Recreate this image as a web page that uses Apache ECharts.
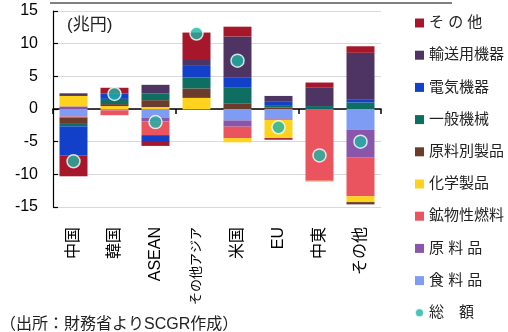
<!DOCTYPE html>
<html>
<head>
<meta charset="utf-8">
<script src="https://cdn.jsdelivr.net/npm/echarts@6/dist/echarts.min.js"></script>
<style>
  html, body { margin: 0; padding: 0; background: #fff; }
  #chart { width: 508px; height: 332px; }
</style>
</head>
<body>
<div id="chart"></div>
<script>
    // 国・地域 (兆円)
    let categories = ['中国', '韓国', 'ASEAN', 'その他アジア', '米国', 'EU', '中東', 'その他'];
    let yTicks = [-15, -10, -5, 0, 5, 10, 15];

    let food      = [-1.15, -0.2, -1.3, -0.1, -1.75, -1.45, 0, -3.2];
    let rawMat    = [0.4, 0, -0.6, 0, -0.95, -0.2, 0, -4.2];
    let fuel      = [-0.15, -0.75, -2.1, 0, -1.75, 0, -11.0, -5.95];
    let chemical  = [1.6, 0.45, 0.3, 1.7, -0.65, -2.8, -0.15, -0.9];
    let material  = [-0.85, 0.3, 1.05, 1.45, 0.8, 0.25, 0, -0.35];
    let machinery = [-0.5, 0.8, 1.0, 1.7, 2.45, 0.35, 0.45, 1.0];
    let electric  = [-4.5, 0.8, -0.9, 1.75, 1.55, 0.5, 0, 0.5];
    let transport = [0.4, 0, 1.35, 0.9, 6.3, 0.9, 2.8, 7.1];
    let others    = [-3.15, 0.9, -0.75, 4.2, 1.5, -0.25, 0.8, 1.0];
    let total     = [-8.0, 2.3, -2.0, 11.55, 7.4, -2.8, -7.1, -5.0];

    let font = 'Arial, "Noto Sans CJK JP", sans-serif';

    let stackItems = [
        {name: '食 料 品', data: food, color: '#7e9cf4'},
        {name: '原 料 品', data: rawMat, color: '#8a56ac'},
        {name: '鉱物性燃料', data: fuel, color: '#e9545f'},
        {name: '化学製品', data: chemical, color: '#ffd21e'},
        {name: '原料別製品', data: material, color: '#6b3b2b'},
        {name: '一般機械', data: machinery, color: '#0f6e62'},
        {name: '電気機器', data: electric, color: '#1240c8'},
        {name: '輸送用機器', data: transport, color: '#4e3462'},
        {name: 'そ の 他', data: others, color: '#a6172b'}
    ];

    let series = stackItems.map(function (s) {
        return {
            name: s.name,
            type: 'bar',
            stack: 'trade',
            xAxisIndex: 0,
            barWidth: 28,
            itemStyle: {color: s.color},
            data: s.data
        };
    });
    series.push({
        name: '総　額',
        type: 'scatter',
        xAxisIndex: 0,
        symbolSize: 13,
        z: 5,
        itemStyle: {color: '#1bb5a5', borderColor: '#fff', borderWidth: 1.5},
        data: total
    });

    let legendNames = stackItems.map(function (s) { return s.name; }).reverse();
    legendNames.push('総　額');

    let dom = document.getElementById('chart');
    let chart = echarts.init(dom);
    let option = {
        animation: false,
        backgroundColor: '#fff',
        textStyle: {fontFamily: font},
        grid: {
            left: 53,
            right: 127,
            top: 11,
            bottom: 125
        },
        legend: {
            orient: 'vertical',
            left: 409,
            top: 8,
            itemWidth: 9,
            itemHeight: 9,
            itemGap: 12.2,
            icon: 'rect',
            data: legendNames.map(function (n) {
                return n === '総　額' ? {name: n, icon: 'circle'} : {name: n};
            }),
            textStyle: {fontSize: 15, color: '#222', lineHeight: 20, fontFamily: font}
        },
        xAxis: [
            {
                type: 'category',
                data: categories,
                position: 'bottom',
                axisLine: {show: false, onZero: false},
                axisTick: {show: false},
                axisLabel: {
                    rotate: 90,
                    interval: 0,
                    margin: 20,
                    fontSize: 16,
                    color: '#000',
                    formatter: function (v) {
                        return v === 'その他アジア' ? '{s|' + v + '}' : v;
                    },
                    rich: {s: {fontSize: 13, color: '#000'}}
                }
            },
            {
                type: 'category',
                data: categories,
                axisLine: {onZero: true, lineStyle: {color: '#000', width: 1.5}},
                axisTick: {show: true, inside: true, length: 5, lineStyle: {color: '#000', width: 1.5}},
                axisLabel: {show: false},
                splitLine: {show: false}
            }
        ],
        yAxis: {
            type: 'value',
            min: yTicks[0],
            max: yTicks[yTicks.length - 1],
            interval: 5,
            axisLine: {show: true, lineStyle: {color: '#000', width: 1.2}},
            axisTick: {show: true, inside: true, length: 5, lineStyle: {color: '#000', width: 1.2}},
            axisLabel: {fontSize: 16, color: '#000', margin: 15},
            splitLine: {lineStyle: {color: '#d9d9d9', width: 1}}
        },
        graphic: [
            {
                type: 'text',
                left: 50,
                top: -20,
                style: {text: '図表⑤ 国・地域別の貿易収支（2022年）', fontSize: 21, fontWeight: 'bold', fill: '#000', fontFamily: font}
            },
            {
                type: 'line',
                shape: {x1: 50, y1: 3, x2: 452, y2: 3},
                style: {stroke: '#000', lineWidth: 1}
            },
            {
                type: 'text',
                left: 67,
                top: 17,
                style: {text: '(兆円)', fontSize: 17, fill: '#222', fontFamily: font}
            },
            {
                type: 'text',
                left: 0,
                top: 317,
                style: {text: '（出所：財務省よりSCGR作成）', fontSize: 16, fill: '#222', fontFamily: font}
            }
        ],
        series: series
    };
    chart.setOption(option);
    window.addEventListener('resize', function () {
        chart.resize();
    });
</script>
</body>
</html>
